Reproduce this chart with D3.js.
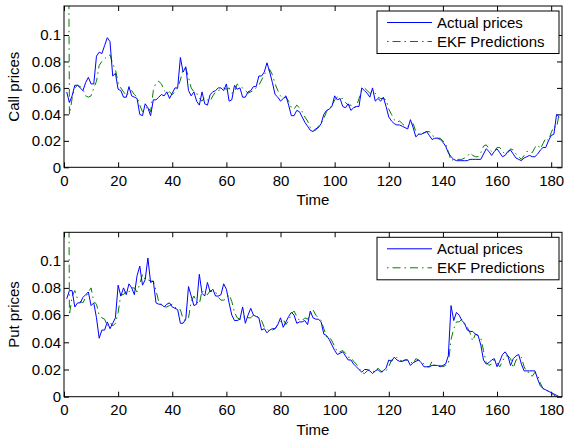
<!DOCTYPE html>
<html>
<head>
<meta charset="utf-8">
<script src="https://cdn.jsdelivr.net/npm/d3@7"></script>
<style>
  body { margin: 0; background: #fff; }
  text { font-family: "Liberation Sans", Arial, sans-serif; }
</style>
</head>
<body>
<svg id="chart" width="564" height="438"></svg>
<script>
// values, one per time step (t = 1..183)
const callActual = [
  0.057,0.049,0.054,0.062,0.062,0.060,0.058,0.064,0.068,0.063,
  0.063,0.084,0.087,0.086,0.092,0.098,0.095,0.069,0.071,0.059,
  0.058,0.053,0.053,0.061,0.054,0.053,0.052,0.040,0.039,0.048,
  0.045,0.039,0.051,0.051,0.053,0.055,0.054,0.057,0.052,0.056,
  0.060,0.060,0.083,0.072,0.076,0.058,0.054,0.057,0.050,0.047,
  0.057,0.048,0.047,0.055,0.057,0.058,0.060,0.060,0.058,0.063,
  0.050,0.051,0.062,0.059,0.060,0.053,0.053,0.057,0.058,0.061,
  0.061,0.069,0.069,0.072,0.079,0.072,0.064,0.055,0.053,0.050,
  0.052,0.054,0.047,0.039,0.039,0.043,0.042,0.038,0.034,0.031,
  0.028,0.027,0.029,0.030,0.033,0.040,0.043,0.044,0.046,0.054,
  0.051,0.052,0.046,0.045,0.048,0.043,0.045,0.046,0.046,0.060,
  0.058,0.056,0.053,0.060,0.050,0.052,0.050,0.053,0.046,0.038,
  0.035,0.033,0.032,0.032,0.031,0.030,0.029,0.036,0.030,0.023,
  0.025,0.025,0.026,0.027,0.024,0.021,0.022,0.022,0.021,0.019,
  0.016,0.011,0.008,0.006,0.005,0.005,0.005,0.005,0.005,0.006,
  0.006,0.006,0.006,0.006,0.010,0.014,0.012,0.009,0.012,0.014,
  0.011,0.008,0.009,0.012,0.013,0.010,0.007,0.006,0.005,0.007,
  0.008,0.009,0.008,0.008,0.010,0.013,0.015,0.015,0.020,0.024,
  0.025,0.040,0.038
]
const callEKF = [
  0.5,0.040,0.052,0.060,0.062,0.061,0.059,0.054,0.053,0.054,
  0.060,0.065,0.077,0.080,0.082,0.084,0.085,0.078,0.074,0.064,
  0.060,0.057,0.054,0.056,0.058,0.055,0.053,0.047,0.042,0.044,
  0.046,0.042,0.058,0.064,0.065,0.063,0.058,0.056,0.057,0.055,
  0.057,0.060,0.066,0.074,0.075,0.068,0.060,0.057,0.056,0.052,
  0.050,0.053,0.051,0.050,0.054,0.057,0.058,0.059,0.060,0.059,
  0.060,0.056,0.057,0.063,0.061,0.060,0.058,0.056,0.057,0.058,
  0.060,0.062,0.066,0.070,0.073,0.074,0.070,0.063,0.058,0.054,
  0.052,0.053,0.050,0.045,0.044,0.047,0.045,0.042,0.038,0.035,
  0.030,0.028,0.028,0.031,0.033,0.037,0.042,0.045,0.046,0.051,
  0.053,0.052,0.052,0.049,0.047,0.047,0.045,0.046,0.052,0.058,
  0.060,0.058,0.056,0.056,0.056,0.053,0.052,0.052,0.051,0.044,
  0.040,0.036,0.034,0.035,0.033,0.031,0.031,0.032,0.033,0.027,
  0.025,0.026,0.026,0.027,0.027,0.024,0.023,0.022,0.022,0.020,
  0.018,0.012,0.005,0.006,0.006,0.006,0.006,0.007,0.008,0.011,
  0.009,0.008,0.008,0.011,0.016,0.017,0.014,0.012,0.012,0.015,
  0.015,0.012,0.010,0.011,0.014,0.013,0.010,0.008,0.006,0.009,
  0.012,0.012,0.011,0.015,0.017,0.014,0.018,0.022,0.020,0.026,
  0.031,0.030,0.041
]
const putActual = [
  0.072,0.078,0.078,0.066,0.069,0.069,0.073,0.075,0.077,0.067,
  0.069,0.058,0.043,0.049,0.049,0.055,0.050,0.054,0.058,0.082,
  0.074,0.080,0.075,0.083,0.080,0.075,0.089,0.096,0.082,0.086,
  0.102,0.084,0.085,0.069,0.068,0.068,0.066,0.068,0.069,0.066,
  0.065,0.064,0.054,0.054,0.057,0.081,0.074,0.067,0.068,0.090,
  0.076,0.074,0.084,0.077,0.079,0.074,0.074,0.075,0.083,0.079,
  0.069,0.060,0.056,0.056,0.057,0.066,0.054,0.060,0.065,0.060,
  0.059,0.058,0.049,0.050,0.047,0.049,0.050,0.050,0.053,0.058,
  0.051,0.055,0.059,0.062,0.060,0.054,0.055,0.055,0.056,0.053,
  0.063,0.058,0.057,0.057,0.055,0.046,0.045,0.042,0.038,0.034,
  0.031,0.032,0.033,0.030,0.027,0.027,0.024,0.022,0.020,0.018,
  0.020,0.020,0.019,0.017,0.019,0.020,0.018,0.019,0.021,0.027,
  0.026,0.029,0.027,0.026,0.026,0.027,0.027,0.023,0.025,0.026,
  0.027,0.025,0.022,0.022,0.022,0.023,0.023,0.023,0.022,0.023,
  0.024,0.030,0.067,0.056,0.062,0.060,0.056,0.054,0.049,0.048,
  0.048,0.046,0.045,0.038,0.027,0.024,0.025,0.027,0.028,0.022,
  0.026,0.031,0.033,0.030,0.023,0.028,0.030,0.031,0.024,0.019,
  0.019,0.019,0.019,0.019,0.013,0.008,0.006,0.005,0.004,0.003,
  0.002,0.001,0.000
]
const putEKF = [
  0.5,0.060,0.074,0.078,0.072,0.070,0.069,0.073,0.077,0.080,
  0.070,0.068,0.060,0.058,0.057,0.052,0.055,0.052,0.054,0.062,
  0.075,0.075,0.078,0.077,0.080,0.080,0.077,0.083,0.090,0.086,
  0.086,0.085,0.085,0.078,0.070,0.067,0.066,0.066,0.067,0.068,
  0.066,0.064,0.064,0.057,0.056,0.058,0.070,0.074,0.070,0.068,
  0.078,0.076,0.075,0.078,0.077,0.077,0.073,0.071,0.071,0.072,
  0.075,0.070,0.062,0.058,0.057,0.057,0.060,0.058,0.058,0.060,
  0.060,0.058,0.056,0.051,0.050,0.048,0.049,0.050,0.053,0.055,
  0.057,0.053,0.056,0.061,0.063,0.059,0.056,0.056,0.058,0.057,
  0.060,0.064,0.060,0.058,0.056,0.050,0.044,0.044,0.041,0.037,
  0.033,0.033,0.034,0.032,0.029,0.029,0.026,0.024,0.021,0.018,
  0.017,0.019,0.020,0.019,0.018,0.021,0.019,0.018,0.019,0.022,
  0.027,0.027,0.029,0.027,0.026,0.027,0.027,0.026,0.024,0.028,
  0.027,0.026,0.024,0.022,0.022,0.026,0.023,0.023,0.023,0.022,
  0.023,0.024,0.042,0.050,0.055,0.055,0.057,0.053,0.051,0.047,
  0.041,0.046,0.045,0.043,0.034,0.025,0.023,0.024,0.027,0.025,
  0.022,0.026,0.030,0.030,0.028,0.021,0.027,0.028,0.029,0.022,
  0.018,0.018,0.015,0.018,0.016,0.010,0.006,0.005,0.004,0.003,
  0.001,0.000,0.000
]

const xTicks = [0, 20, 40, 60, 80, 100, 120, 140, 160, 180]
const yTicks = [0, 0.02, 0.04, 0.06, 0.08, 0.1]
const seriesNames = ['Actual prices', 'EKF Predictions']
const yLabels = ['Call prices', 'Put prices']

const svg = d3.select('#chart')
const left = 64, right = 562
const fontSize = '15px'
const ekfDash = '1.5,4,8,4'

const panels = [
  { top: 6, zeroY: 167.3, tenthY: 35, actual: callActual, ekf: callEKF, label: yLabels[0], id: 'c1' },
  { top: 232.3, zeroY: 396.7, tenthY: 260.7, actual: putActual, ekf: putEKF, label: yLabels[1], id: 'c2' }
]

panels.forEach(p => {
  const height = p.zeroY - p.top
  const x = d3.scaleLinear().domain([0, 184]).range([left, right])
  const y = d3.scaleLinear().domain([0, 0.1]).range([p.zeroY, p.tenthY])
  const g = svg.append('g')

  //clip
  svg.append('clipPath').attr('id', p.id)
    .append('rect').attr('x', left).attr('y', p.top).attr('width', right - left).attr('height', height)

  //axes with inward ticks on all four sides
  g.append('g')
    .attr('transform', `translate(0, ${p.zeroY})`)
    .call(d3.axisBottom(x).tickValues(xTicks).tickSizeInner(-5).tickSizeOuter(0).tickPadding(8))
  g.append('g')
    .attr('transform', `translate(0, ${p.top})`)
    .call(d3.axisTop(x).tickValues(xTicks).tickSizeInner(-5).tickSizeOuter(0).tickFormat(''))
  g.append('g')
    .attr('transform', `translate(${left}, 0)`)
    .call(d3.axisLeft(y).tickValues(yTicks).tickSizeInner(-5).tickSizeOuter(0).tickPadding(3).tickFormat(d => d === 0 ? '0' : d3.format('~g')(d)))
  g.append('g')
    .attr('transform', `translate(${right}, 0)`)
    .call(d3.axisRight(y).tickValues(yTicks).tickSizeInner(-5).tickSizeOuter(0).tickFormat(''))

  g.selectAll('.domain').remove()
  g.selectAll('.tick line').attr('stroke', '#000')
  g.selectAll('.tick text').attr('font-size', fontSize).attr('fill', '#000')
    .style('font-family', '"Liberation Sans", Arial, sans-serif')

  //lines
  const line = d3.line().x((d, i) => x(i + 1)).y(d => y(d))
  g.append('path')
    .datum(p.ekf)
    .attr('clip-path', `url(#${p.id})`)
    .attr('fill', 'none')
    .attr('stroke', '#008000')
    .attr('stroke-width', 1)
    .attr('stroke-dasharray', ekfDash)
    .attr('d', line)
  g.append('path')
    .datum(p.actual)
    .attr('clip-path', `url(#${p.id})`)
    .attr('fill', 'none')
    .attr('stroke', '#0000ff')
    .attr('stroke-width', 1)
    .attr('d', line)

  //frame
  g.append('rect')
    .attr('x', left).attr('y', p.top)
    .attr('width', right - left).attr('height', height)
    .attr('fill', 'none').attr('stroke', '#000').attr('stroke-width', 1)

  //labels
  g.append('text')
    .attr('x', (left + right) / 2)
    .attr('y', p.zeroY + 38)
    .attr('font-size', fontSize)
    .attr('text-anchor', 'middle')
    .text('Time')
  g.append('text')
    .attr('transform', `translate(19, ${(p.top + p.zeroY) / 2}) rotate(-90)`)
    .attr('font-size', fontSize)
    .attr('text-anchor', 'middle')
    .text(p.label)

  //legend
  const lx = 377, ly = p.top + 5
  const lg = g.append('g')
  lg.append('rect')
    .attr('x', lx).attr('y', ly).attr('width', 182).attr('height', 42.5)
    .attr('fill', '#fff').attr('stroke', '#000').attr('stroke-width', 1)
  const rows = [
    { name: seriesNames[0], color: '#0000ff', dash: null },
    { name: seriesNames[1], color: '#008000', dash: ekfDash }
  ]
  rows.forEach((r, i) => {
    const cy = ly + 11.5 + i * 19
    lg.append('line')
      .attr('x1', lx + 10).attr('x2', lx + 55)
      .attr('y1', cy).attr('y2', cy)
      .attr('stroke', r.color).attr('stroke-width', 1)
      .attr('stroke-dasharray', r.dash)
    lg.append('text')
      .attr('x', lx + 60).attr('y', cy + 5.5)
      .attr('font-size', fontSize)
      .text(r.name)
  })
})
</script>
</body>
</html>
